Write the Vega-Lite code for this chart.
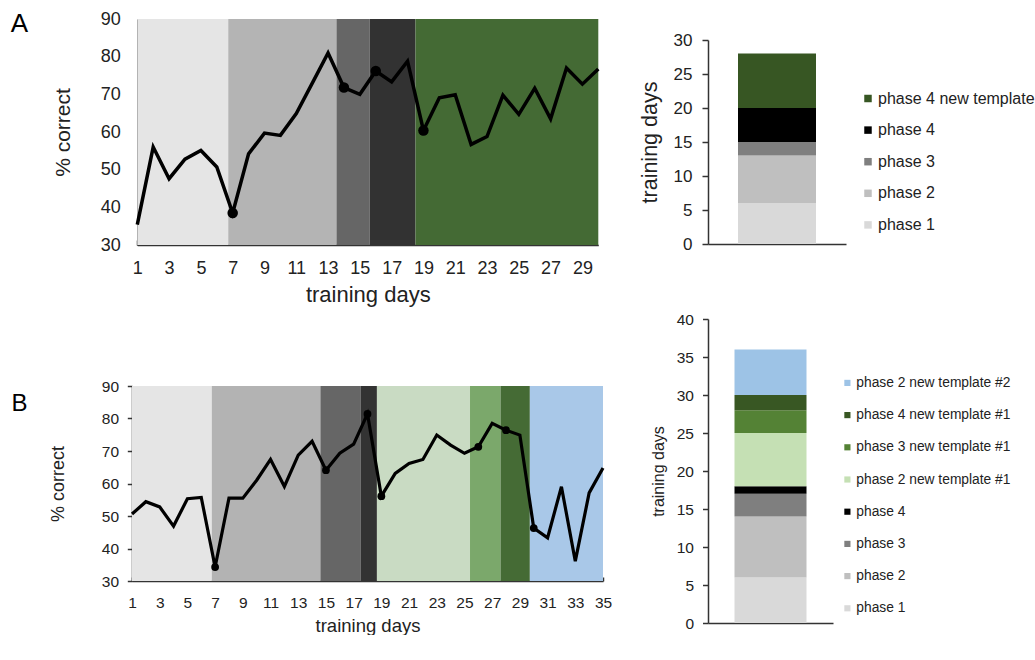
{
  "$schema": "https://vega.github.io/schema/vega-lite/v6.json",
  "padding": {"left": 10, "top": 10, "right": 0, "bottom": 0},
  "config": {
    "view": {"stroke": null},
    "font": "Liberation Sans",
    "axis": {"grid": false, "labelOverlap": false, "labelFlush": false, "labelColor": "#222", "titleColor": "#222", "titleFontWeight": "normal", "domainColor": "#333", "tickColor": "#333", "labelFont": "Liberation Sans", "titleFont": "Liberation Sans"},
    "legend": {"labelFont": "Liberation Sans", "labelColor": "#222"}
  },
  "datasets": {
    "lineA": [
      {"day": 1, "pct": 35.4, "dot": false}, {"day": 2, "pct": 56.0, "dot": false}, {"day": 3, "pct": 47.6, "dot": false},
      {"day": 4, "pct": 52.8, "dot": false}, {"day": 5, "pct": 55.1, "dot": false}, {"day": 6, "pct": 50.7, "dot": false},
      {"day": 7, "pct": 38.5, "dot": true}, {"day": 8, "pct": 54.2, "dot": false}, {"day": 9, "pct": 59.7, "dot": false},
      {"day": 10, "pct": 59.1, "dot": false}, {"day": 11, "pct": 64.9, "dot": false}, {"day": 12, "pct": 72.9, "dot": false},
      {"day": 13, "pct": 81.0, "dot": false}, {"day": 14, "pct": 71.8, "dot": true}, {"day": 15, "pct": 70.0, "dot": false},
      {"day": 16, "pct": 76.2, "dot": true}, {"day": 17, "pct": 73.3, "dot": false}, {"day": 18, "pct": 78.8, "dot": false},
      {"day": 19, "pct": 60.4, "dot": true}, {"day": 20, "pct": 69.1, "dot": false}, {"day": 21, "pct": 69.9, "dot": false},
      {"day": 22, "pct": 56.7, "dot": false}, {"day": 23, "pct": 58.8, "dot": false}, {"day": 24, "pct": 69.8, "dot": false},
      {"day": 25, "pct": 64.7, "dot": false}, {"day": 26, "pct": 71.6, "dot": false}, {"day": 27, "pct": 63.5, "dot": false},
      {"day": 28, "pct": 77.0, "dot": false}, {"day": 29, "pct": 72.7, "dot": false}, {"day": 30, "pct": 76.7, "dot": false}
    ],
    "bandsA": [
      {"band": "phase 1", "start": 1, "end": 6.72},
      {"band": "phase 2", "start": 6.72, "end": 13.53},
      {"band": "phase 3", "start": 13.53, "end": 15.62},
      {"band": "phase 4", "start": 15.62, "end": 18.5},
      {"band": "phase 4 new template", "start": 18.5, "end": 30}
    ],
    "lineB": [
      {"day": 1, "pct": 50.6, "dot": false}, {"day": 2, "pct": 54.4, "dot": false}, {"day": 3, "pct": 52.8, "dot": false},
      {"day": 4, "pct": 46.9, "dot": false}, {"day": 5, "pct": 55.3, "dot": false}, {"day": 6, "pct": 55.7, "dot": false},
      {"day": 7, "pct": 34.3, "dot": true}, {"day": 8, "pct": 55.5, "dot": false}, {"day": 9, "pct": 55.5, "dot": false},
      {"day": 10, "pct": 61.0, "dot": false}, {"day": 11, "pct": 67.4, "dot": false}, {"day": 12, "pct": 59.1, "dot": false},
      {"day": 13, "pct": 68.7, "dot": false}, {"day": 14, "pct": 73.0, "dot": false}, {"day": 15, "pct": 64.1, "dot": true},
      {"day": 16, "pct": 69.3, "dot": false}, {"day": 17, "pct": 72.1, "dot": false}, {"day": 18, "pct": 81.4, "dot": true},
      {"day": 19, "pct": 56.1, "dot": true}, {"day": 20, "pct": 63.1, "dot": false}, {"day": 21, "pct": 66.2, "dot": false},
      {"day": 22, "pct": 67.4, "dot": false}, {"day": 23, "pct": 74.9, "dot": false}, {"day": 24, "pct": 71.8, "dot": false},
      {"day": 25, "pct": 69.3, "dot": false}, {"day": 26, "pct": 71.3, "dot": true}, {"day": 27, "pct": 78.5, "dot": false},
      {"day": 28, "pct": 76.4, "dot": true}, {"day": 29, "pct": 74.9, "dot": false}, {"day": 30, "pct": 46.3, "dot": true},
      {"day": 31, "pct": 43.3, "dot": false}, {"day": 32, "pct": 59.0, "dot": false}, {"day": 33, "pct": 36.1, "dot": false},
      {"day": 34, "pct": 57.1, "dot": false}, {"day": 35, "pct": 64.8, "dot": false}
    ],
    "bandsB": [
      {"band": "phase 1", "start": 1, "end": 6.76},
      {"band": "phase 2", "start": 6.76, "end": 14.6},
      {"band": "phase 3", "start": 14.6, "end": 17.52},
      {"band": "phase 4", "start": 17.52, "end": 18.68},
      {"band": "phase 2 new template #1", "start": 18.68, "end": 25.4},
      {"band": "phase 3 new template #1", "start": 25.4, "end": 27.6},
      {"band": "phase 4 new template #1", "start": 27.6, "end": 29.72},
      {"band": "phase 2 new template #2", "start": 29.72, "end": 35}
    ],
    "barA": [
      {"grp": "A", "phase": "phase 1", "days": 6, "idx": 1},
      {"grp": "A", "phase": "phase 2", "days": 7, "idx": 2},
      {"grp": "A", "phase": "phase 3", "days": 2, "idx": 3},
      {"grp": "A", "phase": "phase 4", "days": 5, "idx": 4},
      {"grp": "A", "phase": "phase 4 new template", "days": 8, "idx": 5}
    ],
    "barB": [
      {"grp": "B", "phase": "phase 1", "days": 6, "idx": 1},
      {"grp": "B", "phase": "phase 2", "days": 8, "idx": 2},
      {"grp": "B", "phase": "phase 3", "days": 3, "idx": 3},
      {"grp": "B", "phase": "phase 4", "days": 1, "idx": 4},
      {"grp": "B", "phase": "phase 2 new template #1", "days": 7, "idx": 5},
      {"grp": "B", "phase": "phase 3 new template #1", "days": 3, "idx": 6},
      {"grp": "B", "phase": "phase 4 new template #1", "days": 2, "idx": 7},
      {"grp": "B", "phase": "phase 2 new template #2", "days": 6, "idx": 8}
    ]
  },
  "resolve": {"scale": {"color": "independent", "x": "independent", "y": "independent"}},
  "spacing": 27,
  "hconcat": [
    {
      "bounds": "flush",
      "spacing": 141,
      "resolve": {"scale": {"color": "independent", "x": "independent", "y": "independent"}},
      "vconcat": [
        {
          "width": 466.3,
          "height": 226,
          "resolve": {"scale": {"x": "independent"}, "axis": {"x": "independent"}},
          "layer": [
            {
              "data": {"name": "bandsA"},
              "mark": {"type": "rect"},
              "encoding": {
                "x": {"field": "start", "type": "quantitative", "scale": {"domain": [1, 30], "range": [5.3, 466.3], "nice": false, "zero": false},
                  "axis": {"orient": "top", "domain": false, "ticks": false, "labels": false, "title": "A", "titleFontSize": 26, "titleFontWeight": "normal", "titleColor": "#000", "titleAngle": 0, "titleAlign": "left", "titleBaseline": "alphabetic", "titleX": -121.7, "titleY": 12.5}},
                "x2": {"field": "end"},
                "color": {"field": "band", "type": "nominal", "legend": null,
                  "scale": {"domain": ["phase 1", "phase 2", "phase 3", "phase 4", "phase 4 new template"], "range": ["#e5e5e5", "#b4b4b4", "#666666", "#323232", "#446a34"]}}
              }
            },
            {
              "data": {"name": "lineA"},
              "encoding": {
                "x": {"field": "day", "type": "quantitative", "scale": {"domain": [1, 30], "range": [5.3, 466.3], "nice": false, "zero": false},
                  "axis": {"orient": "bottom", "values": [1, 3, 5, 7, 9, 11, 13, 15, 17, 19, 21, 23, 25, 27, 29], "title": "training days", "titleFontSize": 22, "titlePadding": 7, "labelFontSize": 18, "tickSize": -5, "labelPadding": 19.6, "domainWidth": 1.5, "tickWidth": 1.5, "labelFlush": false, "labelOverlap": false}},
                "y": {"field": "pct", "type": "quantitative", "scale": {"domain": [30, 90], "nice": false, "zero": false},
                  "axis": {"values": [30, 40, 50, 60, 70, 80, 90], "title": "% correct", "titleFontSize": 21, "titlePadding": 26.5, "labelFontSize": 18, "ticks": false, "labelPadding": 17, "offset": -5.3, "domainWidth": 1.5, "labelOverlap": false}}
              },
              "layer": [
                {"mark": {"type": "line", "color": "#000", "strokeWidth": 3.5}},
                {"transform": [{"filter": "datum.dot"}], "mark": {"type": "circle", "color": "#000", "size": 110, "opacity": 1}}
              ]
            }
          ]
        },
        {
          "width": 471,
          "height": 195,
          "resolve": {"scale": {"x": "independent"}, "axis": {"x": "independent"}},
          "layer": [
            {
              "data": {"name": "bandsB"},
              "mark": {"type": "rect"},
              "encoding": {
                "x": {"field": "start", "type": "quantitative", "scale": {"domain": [1, 35], "nice": false, "zero": false},
                  "axis": {"orient": "top", "domain": false, "ticks": false, "labels": false, "title": "B", "titleFontSize": 24, "titleFontWeight": "normal", "titleColor": "#000", "titleAngle": 0, "titleAlign": "left", "titleBaseline": "alphabetic", "titleX": -121, "titleY": 24}},
                "x2": {"field": "end"},
                "color": {"field": "band", "type": "nominal", "legend": null,
                  "scale": {"domain": ["phase 1", "phase 2", "phase 3", "phase 4", "phase 2 new template #1", "phase 3 new template #1", "phase 4 new template #1", "phase 2 new template #2"],
                    "range": ["#e5e5e5", "#b3b3b3", "#666666", "#333333", "#c9dbc3", "#7ba86b", "#456b35", "#a9c8e8"]}}
              }
            },
            {
              "data": {"name": "lineB"},
              "encoding": {
                "x": {"field": "day", "type": "quantitative", "scale": {"domain": [1, 35], "nice": false, "zero": false},
                  "axis": {"orient": "bottom", "values": [1, 3, 5, 7, 9, 11, 13, 15, 17, 19, 21, 23, 25, 27, 29, 31, 33, 35], "title": "training days", "titleFontSize": 18.5, "titlePadding": 5, "labelFontSize": 15.5, "tickSize": -4, "labelPadding": 18.5, "domainWidth": 1.5, "tickWidth": 1.5, "labelFlush": false, "labelOverlap": false}},
                "y": {"field": "pct", "type": "quantitative", "scale": {"domain": [30, 90], "nice": false, "zero": false},
                  "axis": {"values": [30, 40, 50, 60, 70, 80, 90], "title": "% correct", "titleFontSize": 18, "titlePadding": 34, "labelFontSize": 15.5, "tickSize": 4.7, "labelPadding": 8.7, "domainWidth": 1.5, "tickWidth": 1.5, "labelOverlap": false}}
              },
              "layer": [
                {"mark": {"type": "line", "color": "#000", "strokeWidth": 3.2}},
                {"transform": [{"filter": "datum.dot"}], "mark": {"type": "circle", "color": "#000", "size": 60, "opacity": 1}}
              ]
            }
          ]
        }
      ]
    },
    {
      "bounds": "flush",
      "spacing": 0,
      "resolve": {"scale": {"color": "independent", "x": "independent", "y": "independent"}},
      "vconcat": [
        {"width": 138, "height": 21, "data": {"values": []}, "mark": "point"},
        {
          "width": 138,
          "height": 204,
          "data": {"name": "barA"},
          "mark": {"type": "bar", "width": 78},
          "encoding": {
            "x": {"field": "grp", "type": "nominal", "axis": {"labels": false, "ticks": false, "title": null, "domainWidth": 1.5}},
            "y": {"field": "days", "type": "quantitative", "stack": "zero", "scale": {"domain": [0, 30], "nice": false},
              "axis": {"values": [0, 5, 10, 15, 20, 25, 30], "title": "training days", "titleFontSize": 21.5, "titlePadding": 12, "labelFontSize": 17, "tickSize": 6, "labelPadding": 10, "domainWidth": 1.5, "tickWidth": 1.5, "labelOverlap": false}},
            "order": {"field": "idx", "type": "quantitative"},
            "color": {"field": "phase", "type": "nominal",
              "scale": {"domain": ["phase 4 new template", "phase 4", "phase 3", "phase 2", "phase 1"], "range": ["#375623", "#000000", "#7f7f7f", "#bfbfbf", "#d9d9d9"]},
              "legend": {"orient": "none", "legendX": 152, "legendY": 50.5, "title": null, "symbolType": "square", "symbolSize": 56, "symbolStrokeWidth": 0, "labelFontSize": 16, "labelOffset": 2, "rowPadding": 15.6, "labelLimit": 300}}
          }
        },
        {"width": 138, "height": 75, "data": {"values": []}, "mark": "point"},
        {
          "width": 125,
          "height": 304,
          "data": {"name": "barB"},
          "mark": {"type": "bar", "width": 72},
          "encoding": {
            "x": {"field": "grp", "type": "nominal", "axis": {"labels": false, "ticks": false, "title": null, "domainWidth": 1.5}},
            "y": {"field": "days", "type": "quantitative", "stack": "zero", "scale": {"domain": [0, 40], "nice": false},
              "axis": {"values": [0, 5, 10, 15, 20, 25, 30, 35, 40], "title": "training days", "titleFontSize": 16, "titlePadding": 9.3, "labelFontSize": 15.5, "tickSize": 5.5, "labelPadding": 9, "domainWidth": 1.5, "tickWidth": 1.5, "labelOverlap": false}},
            "order": {"field": "idx", "type": "quantitative"},
            "color": {"field": "phase", "type": "nominal",
              "scale": {"domain": ["phase 2 new template #2", "phase 4 new template #1", "phase 3 new template #1", "phase 2 new template #1", "phase 4", "phase 3", "phase 2", "phase 1"],
                "range": ["#9dc3e6", "#385723", "#548235", "#c5e0b4", "#000000", "#7f7f7f", "#bfbfbf", "#d9d9d9"]},
              "legend": {"orient": "none", "legendX": 132.5, "legendY": 57, "title": null, "symbolType": "square", "symbolSize": 38, "symbolStrokeWidth": 0, "labelFontSize": 13.8, "labelOffset": 2, "rowPadding": 17.2, "labelLimit": 300}}
          }
        }
      ]
    }
  ]
}
